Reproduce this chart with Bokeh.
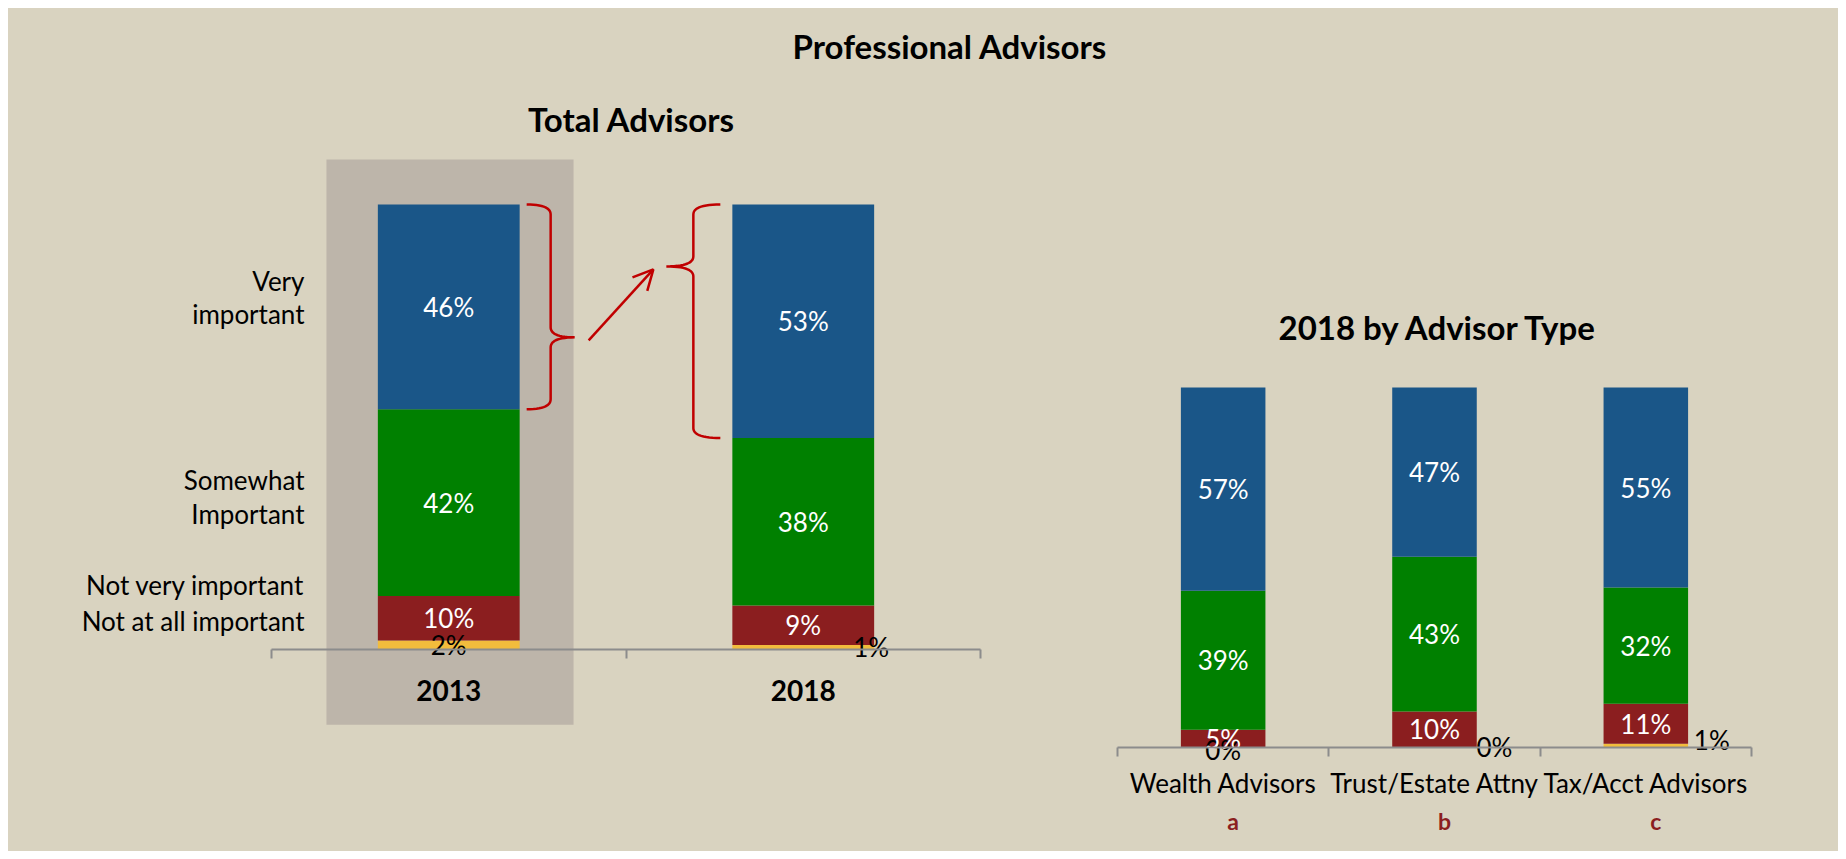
import numpy as np
from bokeh.plotting import figure
from bokeh.layouts import column, row
from bokeh.models import Range1d, FixedTicker, ColumnDataSource, Arrow, OpenHead, BoxAnnotation
from bokeh.core.properties import value
from bokeh.embed import file_html
from bokeh.resources import INLINE

# ---------------- data ----------------
level_labels = ["Very\nimportant", "Somewhat\nImportant", "Not very important", "Not at all important"]

years = ["2013", "2018"]
total_notatall = [2, 1]
total_notvery = [10, 9]
total_somewhat = [42, 38]
total_very = [46, 53]

advisor_types = ["Wealth Advisors", "Trust/Estate Attny", "Tax/Acct Advisors"]
type_letters = ["a", "b", "c"]
type_notatall = [0, 0, 1]
type_notvery = [5, 10, 11]
type_somewhat = [39, 43, 32]
type_very = [57, 47, 55]

# ---------------- style ----------------
BG = "#D9D3C0"
FONT = "Lato"
RED = "#C00000"
AXIS = "#8C8C8C"
SEG_COLORS = ["#F2BC3C", "#8B1E1F", "#008000", "#1A5688"]  # bottom -> top


def base_fig(w, h, xr, yr):
    p = figure(width=w, height=h, x_range=Range1d(*xr), y_range=Range1d(*yr),
               toolbar_location=None, output_backend="svg", min_border=0,
               styles={"background-color": BG})
    p.background_fill_color = BG
    p.border_fill_color = BG
    p.outline_line_color = None
    p.grid.visible = False
    p.yaxis.visible = False
    return p


def style_xaxis(p, cats, size, bold, standoff):
    n = len(cats)
    centers = [i + 0.5 for i in range(n)]
    ax = p.xaxis[0]
    ax.ticker = FixedTicker(ticks=centers, minor_ticks=list(range(n + 1)))
    ax.major_label_overrides = {c: lab for c, lab in zip(centers, cats)}
    ax.fixed_location = 0
    ax.bounds = (0, n)
    ax.axis_line_color = AXIS
    ax.axis_line_width = 2
    ax.major_tick_line_color = None
    ax.major_tick_in = 0
    ax.major_tick_out = 0
    ax.minor_tick_line_color = AXIS
    ax.minor_tick_line_width = 2
    ax.minor_tick_in = 0
    ax.minor_tick_out = 9
    ax.major_label_text_font = FONT
    ax.major_label_text_font_size = size
    ax.major_label_text_font_style = "bold" if bold else "normal"
    ax.major_label_text_color = "black"
    ax.major_label_standoff = standoff


def draw_stack(p, series, bar_width, small_dx, small_dy, size):
    vals = np.array(series, dtype=float)          # rows: bottom -> top
    n = vals.shape[1]
    xs = np.arange(n) + 0.5
    shares = vals / vals.sum(axis=0)
    tops = np.cumsum(shares, axis=0)
    bottoms = tops - shares
    for k in range(vals.shape[0]):
        p.vbar(x=xs, bottom=bottoms[k], top=tops[k], width=bar_width,
               fill_color=SEG_COLORS[k], line_color=None)
    for k in range(vals.shape[0]):
        mids = (bottoms[k] + tops[k]) / 2
        txt = [f"{int(v)}%" for v in vals[k]]
        if k == 0:
            src = ColumnDataSource(dict(x=xs, y=mids, t=txt, dx=small_dx, dy=small_dy))
            p.text(x="x", y="y", text="t", x_offset="dx", y_offset="dy", source=src,
                   text_color="black", text_align="center", text_baseline="middle",
                   text_font=value(FONT), text_font_size=size)
        else:
            p.text(x=xs, y=mids, text=txt, text_color="white", text_align="center",
                   text_baseline="middle", text_font=value(FONT), text_font_size=size)
    return xs, bottoms, tops


def quad_pts(p0, c, p1, n=14):
    t = np.linspace(0, 1, n)
    x = (1 - t) ** 2 * p0[0] + 2 * (1 - t) * t * c[0] + t ** 2 * p1[0]
    y = (1 - t) ** 2 * p0[1] + 2 * (1 - t) * t * c[1] + t ** 2 * p1[1]
    return list(x), list(y)


def brace(p, x_edge, y_top, y_bot, tip_frac, side, sx, sy, hook, vert, tip, r=10):
    X = lambda px: x_edge + side * px / sx
    dr = r / sy
    ytip = y_top - tip_frac * (y_top - y_bot)
    xs, ys = [], []
    for seg in [
        quad_pts((X(hook), y_top), (X(vert), y_top), (X(vert), y_top - dr)),
        quad_pts((X(vert), ytip + dr), (X(vert), ytip), (X(tip), ytip)),
        quad_pts((X(tip), ytip), (X(vert), ytip), (X(vert), ytip - dr)),
        quad_pts((X(vert), y_bot + dr), (X(vert), y_bot), (X(hook), y_bot)),
    ]:
        xs += seg[0]
        ys += seg[1]
    p.line(xs, ys, line_color=RED, line_width=2.5)
    return X(tip), ytip


# ---------------- top title ----------------
top = base_fig(1830, 72, (0, 1830), (0, 72))
top.xaxis.visible = False
top.text(x=[941.5], y=[34.3], text=["Professional Advisors"], text_align="center",
         text_baseline="middle", text_font=value(FONT), text_font_size="33px",
         text_font_style="bold", text_color="black")

# ---------------- left: Total Advisors ----------------
SX1, SY1 = 354.5, 445.0
left = base_fig(1092, 771, (-0.7419, 2.3385), (-0.4539, 1.2787))
left.add_layout(BoxAnnotation(left=0.155, right=0.852, bottom=-0.169, top=1.101,
                              fill_color="#BDB5AA", fill_alpha=1.0, line_color=None,
                              level="underlay"))
style_xaxis(left, years, "28px", True, 21)
xs1, b1, t1 = draw_stack(left, [total_notatall, total_notvery, total_somewhat, total_very],
                         0.4, [0, 68], [0, 0], "26px")
left.text(x=[0.093] * 4, y=[0.791, 0.343, 0.146, 0.064], text=level_labels,
          text_align="right", text_baseline="middle", text_line_height=1.06,
          text_font=value(FONT), text_font_size="26px", text_color="black")
left.text(x=[1.0], y=[1.193], x_offset=5.5, text=["Total Advisors"], text_align="center",
          text_baseline="middle", text_font=value(FONT), text_font_size="33px",
          text_font_style="bold", text_color="black")

tipL = brace(left, xs1[0] + 0.2, t1[3][0], b1[3][0], 0.649, +1, SX1, SY1, 7, 31, 55)
tipR = brace(left, xs1[1] - 0.2, t1[3][1], b1[3][1], 0.265, -1, SX1, SY1, 12, 39, 66)
left.add_layout(Arrow(x_start=tipL[0] + 14 / SX1, y_start=tipL[1] - 3 / SY1,
                      x_end=tipR[0] - 13 / SX1, y_end=tipR[1] - 3 / SY1,
                      line_color=RED, line_width=2.5,
                      end=OpenHead(size=20, line_color=RED, line_width=2.5)))

# ---------------- right: 2018 by Advisor Type ----------------
right = base_fig(738, 771, (-0.0804, 3.4117), (-0.2889, 1.8528))
style_xaxis(right, advisor_types, "26px", False, 11)
xs2, b2, t2 = draw_stack(right, [type_notatall, type_notvery, type_somewhat, type_very],
                         0.4, [0, 60, 66], [3, 0, -6], "26px")
right.text(x=xs2, y=[-0.2028] * 3, x_offset=10, text=type_letters, text_align="center",
           text_baseline="middle", text_font=value(FONT), text_font_size="23px",
           text_font_style="bold", text_color="#8B1E1F")
right.text(x=[1.5], y=[1.169], x_offset=4, text=["2018 by Advisor Type"], text_align="center",
           text_baseline="middle", text_font=value(FONT), text_font_size="33px",
           text_font_style="bold", text_color="black")

layout = column(top, row(left, right, styles={"background-color": BG}),
                styles={"background-color": BG}, margin=(8, 8, 8, 8))
open("out.html", "w").write(file_html(layout, INLINE))
